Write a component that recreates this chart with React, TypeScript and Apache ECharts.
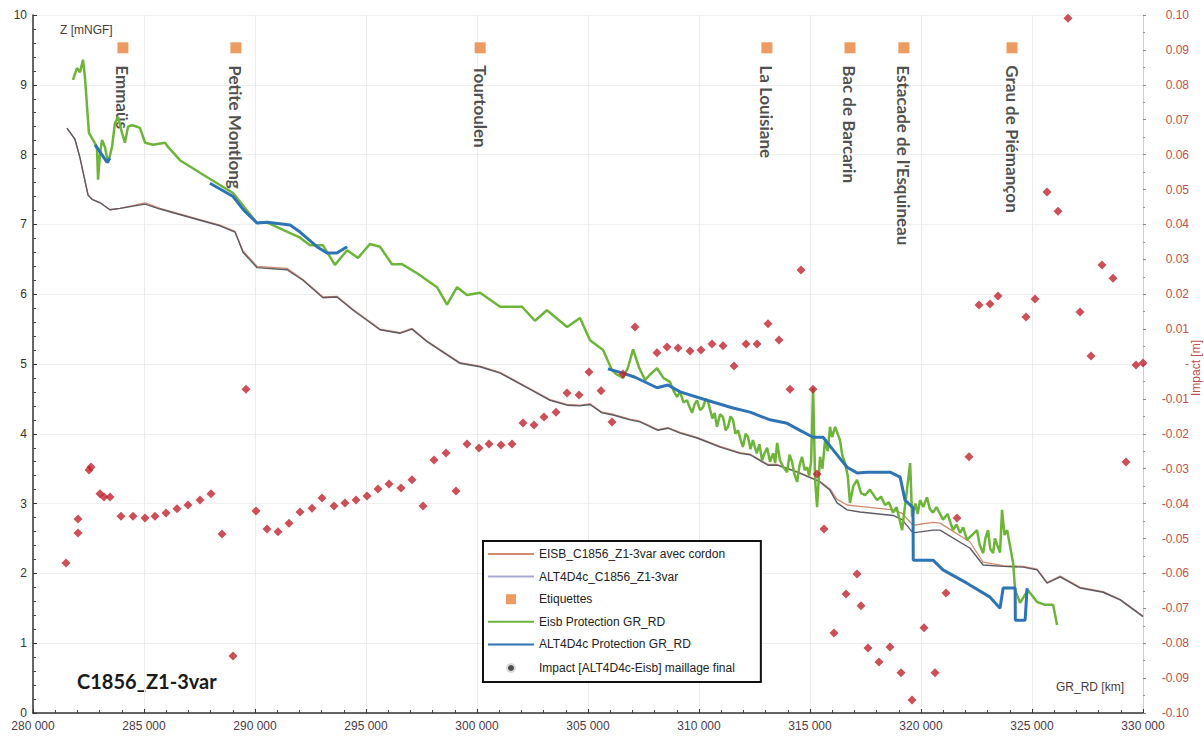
import React, { useEffect, useRef } from 'react';
import * as echarts from 'echarts';

// ---- Data ----
const eisbProfile: number[][] = [
  [281530, 8.38], [281890, 8.22], [282120, 7.95], [282480, 7.42], [282660, 7.36], [283020, 7.31],
  [283470, 7.21], [283920, 7.23], [285050, 7.31], [285720, 7.23], [287520, 7.07], [288420, 6.99],
  [289100, 6.90], [289460, 6.62], [290090, 6.40], [291440, 6.37], [292160, 6.21], [293060, 5.96],
  [293690, 5.97], [294420, 5.78], [295630, 5.50], [296530, 5.45], [297070, 5.51], [297750, 5.33],
  [299230, 5.02], [300130, 4.97], [301040, 4.88], [302250, 4.67], [303290, 4.49], [304050, 4.42],
  [304640, 4.41], [305090, 4.43], [305630, 4.31], [306130, 4.28], [306890, 4.21], [307340, 4.18],
  [308150, 4.06], [308600, 4.09], [309150, 4.02], [309910, 3.95], [310950, 3.82], [311850, 3.73],
  [312300, 3.71], [313110, 3.56], [313520, 3.56], [314420, 3.46], [315450, 3.32], [315900, 3.21],
  [316220, 3.06], [316670, 2.98], [317250, 2.96], [318740, 2.91], [319150, 2.86], [319640, 2.69],
  [320540, 2.73], [320860, 2.72], [322210, 2.45], [322800, 2.16], [323700, 2.11], [324600, 2.10],
  [325230, 2.06], [325680, 1.87], [326270, 1.96], [327170, 1.80], [328200, 1.74], [328970, 1.63],
  [330000, 1.39],
];

const altProfile: number[][] = [
  [281530, 8.38], [281890, 8.22], [282120, 7.95], [282480, 7.42], [282660, 7.36], [283020, 7.31],
  [283470, 7.21], [283920, 7.23], [285050, 7.29], [285720, 7.22], [287520, 7.06], [288420, 6.98],
  [289100, 6.89], [289460, 6.60], [290090, 6.38], [291440, 6.35], [292160, 6.20], [293060, 5.95],
  [293690, 5.96], [294420, 5.77], [295630, 5.49], [296530, 5.44], [297070, 5.50], [297750, 5.32],
  [299230, 5.01], [300130, 4.96], [301040, 4.87], [302250, 4.66], [303290, 4.48], [304050, 4.41],
  [304640, 4.40], [305090, 4.42], [305630, 4.30], [306130, 4.27], [306890, 4.20], [307340, 4.17],
  [308150, 4.05], [308600, 4.08], [309150, 4.01], [309910, 3.94], [310950, 3.81], [311850, 3.72],
  [312300, 3.70], [313110, 3.55], [313520, 3.55], [314420, 3.45], [315450, 3.31], [315900, 3.19],
  [316220, 3.01], [316670, 2.91], [317250, 2.88], [318740, 2.83], [319150, 2.77], [319640, 2.58],
  [320540, 2.62], [320860, 2.62], [322210, 2.36], [322800, 2.12], [323700, 2.10], [324600, 2.09],
  [325230, 2.05], [325680, 1.86], [326270, 1.95], [327170, 1.79], [328200, 1.73], [328970, 1.62],
  [330000, 1.38],
];

const labelNames: string[] = [
  'Emmaüs', 'Petite Montlong', 'Tourtoulen', 'La Louisiane', 'Bac de Barcarin',
  "Estacade de l'Esquineau", 'Grau de Piémançon',
];
const labelX: number[] = [284050, 289140, 300140, 313060, 316800, 319230, 324100];
const labelZ: number[] = [9.53, 9.53, 9.53, 9.53, 9.53, 9.53, 9.53];

const eisbProtection: number[][] = [
  [281800, 9.07], [281980, 9.24], [282120, 9.18], [282250, 9.36], [282340, 9.11], [282520, 8.31],
  [282880, 8.11], [282930, 7.64], [283020, 8.02], [283110, 8.21], [283240, 8.11], [283380, 7.88],
  [283560, 8.11], [283690, 8.45], [283830, 8.54], [284010, 8.31], [284140, 8.17], [284280, 8.40],
  [284460, 8.42], [284690, 8.40], [284820, 8.38], [285050, 8.17], [285410, 8.14], [285950, 8.17],
  [286080, 8.11], [286620, 7.92], [287520, 7.74], [288290, 7.59], [289010, 7.45], [290090, 7.02],
  [290540, 7.03], [291260, 6.92], [292030, 6.81], [292480, 6.70], [293060, 6.70], [293600, 6.42],
  [294150, 6.63], [294640, 6.52], [295180, 6.72], [295630, 6.68], [296170, 6.43], [296620, 6.43],
  [297300, 6.30], [298200, 6.10], [298650, 5.85], [299100, 6.10], [299550, 5.99], [300140, 6.02],
  [301040, 5.82], [302030, 5.82], [302610, 5.62], [303150, 5.77], [304060, 5.53], [304640, 5.66],
  [305090, 5.34], [305680, 5.20], [306080, 4.91], [306300, 4.85], [306580, 4.80], [306800, 4.95],
  [307030, 5.21], [307300, 4.95], [307570, 4.77], [307800, 4.85], [308110, 4.94], [308400, 4.80],
  [308700, 4.74], [308850, 4.62], [309010, 4.53], [309150, 4.60], [309300, 4.45], [309460, 4.48],
  [309580, 4.38], [309690, 4.30], [309800, 4.42], [309910, 4.48], [310050, 4.34], [310180, 4.38],
  [310300, 4.50], [310410, 4.46], [310600, 4.22], [310700, 4.30], [310810, 4.10], [310950, 4.28],
  [311080, 4.24], [311200, 4.05], [311310, 4.10], [311420, 4.25], [311530, 4.20], [311640, 4.00],
  [311760, 4.05], [311870, 3.92], [311980, 3.81], [312100, 4.00], [312210, 3.95], [312320, 3.78],
  [312430, 3.91], [312600, 3.72], [312720, 3.85], [312840, 3.62], [312950, 3.72], [313070, 3.80],
  [313200, 3.60], [313340, 3.72], [313430, 3.58], [313520, 3.87], [313650, 3.62], [313800, 3.52],
  [313970, 3.45], [314080, 3.70], [314190, 3.60], [314300, 3.42], [314420, 3.31], [314530, 3.55],
  [314640, 3.67], [314760, 3.48], [314870, 3.52], [314960, 3.40], [315050, 3.60], [315140, 4.66],
  [315230, 3.34], [315320, 2.95], [315450, 3.67], [315560, 3.50], [315680, 3.91], [315800, 3.75],
  [315900, 4.10], [316000, 3.95], [316130, 4.10], [316350, 3.91], [316450, 3.70], [316580, 3.58],
  [316700, 3.40], [316800, 3.01], [316950, 3.25], [317120, 3.34], [317300, 3.15], [317480, 3.12],
  [317700, 3.20], [318020, 3.05], [318200, 3.10], [318380, 2.98], [318550, 3.02], [318740, 2.87],
  [318900, 2.95], [319150, 2.62], [319510, 3.58], [319600, 2.81], [319750, 3.00], [319850, 2.85],
  [319960, 3.05], [320100, 2.95], [320270, 3.09], [320400, 2.92], [320540, 2.87], [320700, 2.95],
  [320990, 2.77], [321200, 2.85], [321440, 2.62], [321600, 2.70], [321760, 2.58], [321900, 2.66],
  [322070, 2.48], [322300, 2.55], [322520, 2.62], [322650, 2.40], [322800, 2.29], [322900, 2.50],
  [323020, 2.62], [323120, 2.35], [323250, 2.29], [323330, 2.50], [323430, 2.41], [323560, 2.30],
  [323650, 2.91], [323760, 2.55], [323880, 2.62], [324150, 2.15], [324240, 1.76], [324460, 1.58],
  [324820, 1.76], [325230, 1.59], [325590, 1.55], [325950, 1.55], [326130, 1.26],
];

const altProtectionA: number[][] = [
  [282790, 8.14], [283020, 8.04], [283330, 7.89], [283470, 7.95],
];
const altProtectionB: number[][] = [
  [287970, 7.59], [288740, 7.45], [289010, 7.40], [289500, 7.20], [290090, 7.02], [290540, 7.03],
  [291580, 6.99], [292030, 6.89], [292790, 6.68], [293240, 6.59], [293690, 6.59], [294150, 6.68],
];
const altProtectionC: number[][] = [
  [305900, 4.93], [306580, 4.87], [307120, 4.81], [308110, 4.66], [308600, 4.70], [309150, 4.60],
  [310360, 4.48], [311530, 4.37], [312300, 4.31], [313200, 4.20], [313970, 4.15], [314550, 4.05],
  [315140, 3.95], [315590, 3.95], [316040, 3.77], [316670, 3.52], [317120, 3.44], [317570, 3.45],
  [318610, 3.45], [319060, 3.38], [319280, 3.05], [319640, 2.94], [319650, 2.19], [320540, 2.19],
  [320990, 2.05], [322070, 1.86], [323110, 1.66], [323560, 1.50], [323700, 1.79], [324240, 1.79],
  [324250, 1.33], [324690, 1.33], [324780, 1.79],
];

const impact: number[][] = [
  [281487, -0.0570], [282027, -0.0444], [282027, -0.0484], [282523, -0.0304], [282613, -0.0295],
  [283018, -0.0372], [283198, -0.0381], [283469, -0.0381], [283964, -0.0436], [284505, -0.0436],
  [285045, -0.0441], [285496, -0.0436], [285991, -0.0427], [286487, -0.0415], [286983, -0.0404],
  [287523, -0.0390], [288019, -0.0372], [288514, -0.0487], [289010, -0.0837], [289596, -0.0072],
  [290046, -0.0421], [290541, -0.0473], [291037, -0.0481], [291532, -0.0456], [292028, -0.0424],
  [292568, -0.0413], [293019, -0.0384], [293559, -0.0407], [294055, -0.0398], [294550, -0.0390],
  [295046, -0.0378], [295541, -0.0358], [296037, -0.0344], [296577, -0.0355], [297073, -0.0332],
  [297568, -0.0407], [298064, -0.0275], [298604, -0.0255], [299055, -0.0364], [299550, -0.0229],
  [300091, -0.0241], [300541, -0.0229], [301082, -0.0232], [301577, -0.0229], [302073, -0.0169],
  [302568, -0.0175], [303018, -0.0152], [303559, -0.0138], [304055, -0.0083], [304595, -0.0089],
  [305045, -0.0023], [305586, -0.0077], [306081, -0.0166], [306577, -0.0029], [307117, 0.0106],
  [308108, 0.0032], [308559, 0.0049], [309054, 0.0046], [309595, 0.0037], [310090, 0.0040],
  [310586, 0.0057], [311081, 0.0052], [311577, -0.0006], [312117, 0.0057], [312613, 0.0057],
  [313108, 0.0115], [313604, 0.0069], [314099, -0.0072], [314595, 0.0269], [315136, -0.0072],
  [315316, -0.0315], [315631, -0.0473], [316082, -0.0771], [316622, -0.0659], [317118, -0.0602],
  [317298, -0.0693], [317613, -0.0814], [318109, -0.0854], [318604, -0.0811], [319100, -0.0885],
  [319595, -0.0963], [320136, -0.0756], [320631, -0.0885], [321127, -0.0656], [321622, -0.0441],
  [322163, -0.0266], [322613, 0.0169], [323108, 0.0172], [323468, 0.0195], [324730, 0.0135],
  [325135, 0.0186], [325676, 0.0493], [326171, 0.0438], [326622, 0.0991], [327162, 0.0149],
  [327658, 0.0023], [328154, 0.0284], [328649, 0.0246], [329235, -0.0281], [329685, -0.0003],
  [330000, 0.0003],
];

const FONT = 'Liberation Sans';

const App: React.FC = () => {
  const ref = useRef<HTMLDivElement>(null);

  useEffect(() => {
    if (!ref.current) return;
    const chart = echarts.init(ref.current, undefined, { renderer: 'svg' });

    const altProtStyle = { color: '#2e74b5', width: 3 };
    const hideSym = { opacity: 0 };

    const option: any = {
      animation: false,
      backgroundColor: '#ffffff',
      grid: { left: 33, right: 61, top: 15, bottom: 24, containLabel: false, outerBoundsMode: 'none' },
      legend: {
        orient: 'vertical',
        left: 483,
        top: 541,
        padding: [7, 26, 7, 4],
        itemGap: 10.6,
        itemWidth: 46,
        itemHeight: 10,
        symbolKeepAspect: true,
        backgroundColor: '#ffffff',
        borderColor: '#111111',
        borderWidth: 2,
        textStyle: { fontFamily: FONT, fontSize: 12, color: '#222' },
        data: [
          { name: 'EISB_C1856_Z1-3var avec cordon', itemStyle: hideSym },
          { name: 'ALT4D4c_C1856_Z1-3var', itemStyle: hideSym, lineStyle: { color: '#a8aad2' } },
          { name: 'Etiquettes', icon: 'path://M0 0H8V8H0Z', itemStyle: { borderWidth: 0 } },
          { name: 'Eisb Protection GR_RD', itemStyle: hideSym },
          { name: 'ALT4D4c Protection GR_RD', itemStyle: hideSym },
          {
            name: 'Impact [ALT4D4c-Eisb] maillage final',
            icon: 'circle',
            itemStyle: { color: '#222', borderColor: '#fff', borderWidth: 4 },
          },
        ],
      },
      xAxis: {
        type: 'value',
        min: 280000,
        max: 330000,
        interval: 5000,
        axisLine: { show: true, onZero: false, lineStyle: { color: '#333', width: 1.5 } },
        axisTick: { show: true, inside: true, length: 4, lineStyle: { color: '#333' } },
        minorTick: { show: true, splitNumber: 5, length: 3, lineStyle: { color: '#444' } },
        splitLine: { show: true, lineStyle: { color: '#ececec', width: 1 } },
        axisLabel: {
          fontFamily: FONT,
          fontSize: 12,
          color: '#4a3a4a',
          margin: 7,
          formatter: (v: number) => `${Math.round(v / 1000)} 000`,
        },
      },
      yAxis: [
        {
          type: 'value',
          position: 'left',
          min: 0,
          max: 10,
          interval: 1,
          axisLine: { show: true, lineStyle: { color: '#333', width: 1.5 } },
          axisTick: { show: true, inside: true, length: 4, lineStyle: { color: '#333' } },
          minorTick: { show: true, splitNumber: 5, length: 3, lineStyle: { color: '#444' } },
          splitLine: { show: true, lineStyle: { color: '#efefef', width: 1 } },
          axisLabel: { fontFamily: FONT, fontSize: 12, color: '#333', margin: 6 },
        },
        {
          type: 'value',
          position: 'right',
          min: -0.1,
          max: 0.1,
          interval: 0.01,
          axisLine: { show: true, lineStyle: { color: '#b9d6da', width: 1 } },
          axisTick: { show: true, inside: false, length: 3, lineStyle: { color: '#888' } },
          minorTick: { show: true, splitNumber: 2, length: 2, lineStyle: { color: '#999' } },
          splitLine: { show: false },
          axisLabel: {
            fontFamily: FONT,
            fontSize: 12,
            color: '#c0504d',
            align: 'right',
            margin: 46,
            formatter: (v: number) => (Math.abs(v) < 1e-9 ? '-' : v.toFixed(2)),
          },
        },
      ],
      graphic: [
        {
          type: 'text',
          left: 60,
          top: 24,
          style: { text: 'Z [mNGF]', fontFamily: FONT, fontSize: 12, fill: '#4a3a3a' },
        },
        {
          type: 'text',
          left: 1056,
          top: 681,
          style: { text: 'GR_RD [km]', fontFamily: FONT, fontSize: 12, fill: '#4a3a3a' },
        },
        {
          type: 'text',
          x: 1196,
          y: 368,
          rotation: Math.PI / 2,
          style: {
            text: 'Impact [m]',
            fontFamily: FONT,
            fontSize: 12,
            fill: '#c0504d',
            align: 'center',
            verticalAlign: 'middle',
          },
        },
        {
          type: 'text',
          left: 77,
          top: 671,
          style: {
            text: 'C1856_Z1-3var',
            fontFamily: 'Lato',
            fontWeight: 'bold',
            fontSize: 20,
            fill: '#1a1a1a',
          },
        },
      ],
      series: [
        {
          name: 'EISB_C1856_Z1-3var avec cordon',
          type: 'line',
          yAxisIndex: 0,
          data: eisbProfile,
          symbol: 'none',
          lineStyle: { color: '#d08a6e', width: 1.3 },
          itemStyle: { color: '#d08a6e' },
          z: 2,
        },
        {
          name: 'ALT4D4c_C1856_Z1-3var',
          type: 'line',
          yAxisIndex: 0,
          data: altProfile,
          symbol: 'none',
          lineStyle: { color: '#5c5a66', width: 1.4 },
          itemStyle: { color: '#5c5a66' },
          z: 3,
        },
        {
          name: 'Etiquettes',
          type: 'scatter',
          yAxisIndex: 0,
          symbol: 'rect',
          symbolSize: 11,
          itemStyle: { color: '#e8823a' },
          data: labelNames.map((n, i) => ({ name: n, value: [labelX[i], labelZ[i]] })),
          label: {
            show: true,
            position: 'bottom',
            distance: 12,
            rotate: -90,
            align: 'left',
            verticalAlign: 'middle',
            formatter: '{b}',
            fontFamily: 'Lato',
            fontWeight: 'bold',
            fontSize: 17,
            color: '#1f1f1f',
          },
          z: 4,
        },
        {
          name: 'Eisb Protection GR_RD',
          type: 'line',
          yAxisIndex: 0,
          data: eisbProtection,
          symbol: 'none',
          lineStyle: { color: '#6db538', width: 2.5 },
          itemStyle: { color: '#6db538' },
          z: 5,
        },
        {
          name: 'ALT4D4c Protection GR_RD',
          type: 'line',
          yAxisIndex: 0,
          data: altProtectionA,
          symbol: 'none',
          lineStyle: altProtStyle,
          itemStyle: { color: altProtStyle.color },
          z: 6,
        },
        {
          name: 'ALT4D4c Protection GR_RD',
          type: 'line',
          yAxisIndex: 0,
          data: altProtectionB,
          symbol: 'none',
          lineStyle: altProtStyle,
          itemStyle: { color: altProtStyle.color },
          z: 6,
        },
        {
          name: 'ALT4D4c Protection GR_RD',
          type: 'line',
          yAxisIndex: 0,
          data: altProtectionC,
          symbol: 'none',
          lineStyle: altProtStyle,
          itemStyle: { color: altProtStyle.color },
          z: 6,
        },
        {
          name: 'Impact [ALT4D4c-Eisb] maillage final',
          type: 'scatter',
          yAxisIndex: 1,
          symbol: 'diamond',
          symbolSize: 9,
          itemStyle: { color: '#c0232e' },
          data: impact,
          z: 7,
        },
      ],
    };

    chart.setOption(option);
    return () => {
      chart.dispose();
    };
  }, []);

  return (
    <div
      ref={ref}
      style={{ position: 'fixed', left: 0, top: 0, width: 1204, height: 737, background: '#fff' }}
    />
  );
};

export default App;
